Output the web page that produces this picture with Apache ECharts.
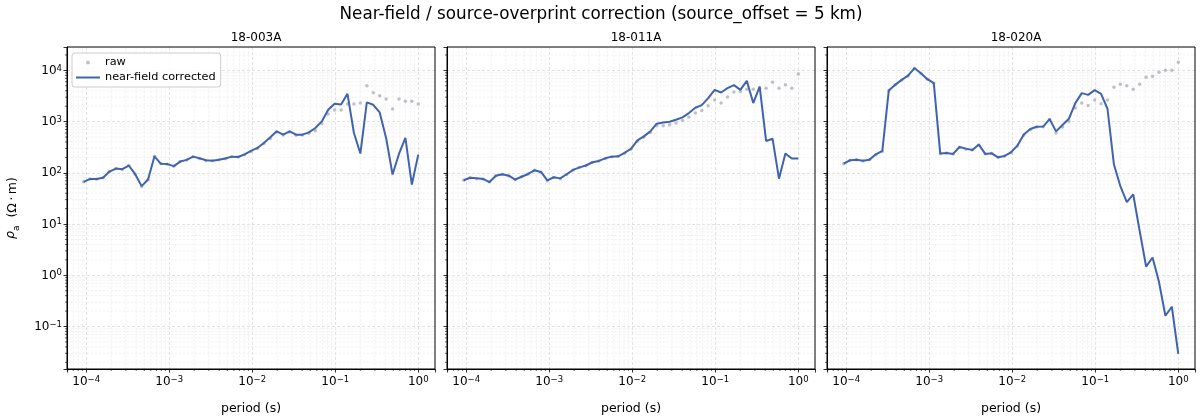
<!DOCTYPE html>
<html><head><meta charset="utf-8">
<script src="https://cdn.jsdelivr.net/npm/echarts@6/dist/echarts.min.js"></script>
<style>html,body{margin:0;padding:0;background:#fff}#c{width:1200px;height:420px}</style>
</head><body><div id="c"></div>
<script>
// ---- data ----
const periods = [9.33e-5, 1.115e-4, 1.334e-4, 1.594e-4, 1.905e-4, 2.278e-4, 2.723e-4, 3.255e-4, 3.890e-4, 4.650e-4,
  5.559e-4, 6.645e-4, 7.943e-4, 9.495e-4, 1.135e-3, 1.357e-3, 1.622e-3, 1.939e-3, 2.317e-3, 2.770e-3,
  3.311e-3, 3.958e-3, 4.732e-3, 5.656e-3, 6.761e-3, 8.082e-3, 9.66e-3, 1.155e-2, 1.380e-2, 1.650e-2,
  1.972e-2, 2.358e-2, 2.818e-2, 3.369e-2, 4.027e-2, 4.814e-2, 5.754e-2, 6.879e-2, 8.222e-2, 9.829e-2,
  0.1175, 0.1404, 0.1679, 0.2007, 0.2399, 0.2868, 0.3428, 0.4097, 0.4898, 0.5855, 0.6998, 0.8365, 1.0];

const siteNames = ['18-003A', '18-011A', '18-020A'];

const raw003 = [66.8, 76, 75, 80, 105, 121, 116, 139, 94, 54, 73, 210, 150, 147, 134, 166, 178, 207, 191, 175,
  172, 180, 189, 206, 203, 226, 260, 298, 372, 470, 630, 548, 630, 540, 545, 590, 665, 922, 1406, 1683,
  1683, 2200, 2200, 2300, 4990, 3650, 3190, 2750, 1760, 2750, 2510, 2510, 2200];
const corr003 = [66.8, 76, 76, 80, 106, 121, 118, 139, 94, 55, 74, 210, 150, 148, 135, 166, 179, 207, 192, 176,
  173, 181, 190, 207, 204, 230, 268, 306, 383, 493, 646, 556, 646, 556, 556, 617, 751, 1010, 1706, 2230,
  2160, 3490, 600, 238, 2370, 2130, 1510, 480, 93, 234, 480, 59, 227];

const raw011 = [71.8, 80, 77, 76, 66, 88, 93, 88, 73, 84, 95, 112, 103, 70, 81, 77, 93, 113, 127, 138,
  160, 170, 190, 205, 208, 240, 288, 415, 495, 610, 832, 832, 871, 940, 1054, 1227, 1469, 1650, 2037, 2630,
  2300, 3013, 3770, 3870, 4305, 4305, 4500, 4508, 5890, 4508, 5224, 4508, 8550];
const corr011 = [71.8, 80, 78, 76, 66, 88, 94, 88, 74, 84, 95, 112, 104, 71, 82, 78, 94, 114, 128, 139,
  161, 171, 192, 207, 210, 245, 295, 430, 515, 646, 910, 964, 995, 1089, 1208, 1469, 1862, 2103, 2877, 4178,
  3700, 4508, 5150, 4178, 6250, 2300, 4840, 419, 464, 77, 238, 190, 190];

const raw020 = [150, 176, 180, 170, 180, 225, 262, 4047, 5224, 6400, 7800, 11040, 8820, 6745, 5635, 236, 243, 232, 315, 290,
  278, 350, 232, 238, 200, 212, 248, 335, 550, 700, 785, 790, 1100, 600, 785, 1010, 1837, 2300, 2065, 2630,
  2230, 2630, 4710, 5380, 4990, 4305, 5380, 7360, 7710, 9230, 10090, 10090, 14450];
const corr020 = [152, 176, 181, 173, 181, 230, 268, 4047, 5224, 6535, 7925, 11040, 8820, 6745, 5635, 238, 245, 234, 320, 297,
  280, 356, 234, 240, 201, 214, 252, 340, 563, 718, 796, 800, 1122, 646, 859, 1138, 2300, 3600, 3333, 4120,
  3490, 1783, 145, 54.8, 26.8, 37.8, 7.31, 1.48, 2.22, 0.745, 0.162, 0.243, 0.0292];

// minor tick positions (2..9 x 10^k) inside the axis ranges
const xMinorTicks = [6e-5, 7e-5, 8e-5, 9e-5,
  2e-4, 3e-4, 4e-4, 5e-4, 6e-4, 7e-4, 8e-4, 9e-4,
  2e-3, 3e-3, 4e-3, 5e-3, 6e-3, 7e-3, 8e-3, 9e-3,
  2e-2, 3e-2, 4e-2, 5e-2, 6e-2, 7e-2, 8e-2, 9e-2,
  0.2, 0.3, 0.4, 0.5, 0.6, 0.7, 0.8, 0.9];
const yMinorTicks = [0.02, 0.03, 0.04, 0.05, 0.06, 0.07, 0.08, 0.09,
  0.2, 0.3, 0.4, 0.5, 0.6, 0.7, 0.8, 0.9,
  2, 3, 4, 5, 6, 7, 8, 9,
  20, 30, 40, 50, 60, 70, 80, 90,
  200, 300, 400, 500, 600, 700, 800, 900,
  2000, 3000, 4000, 5000, 6000, 7000, 8000, 9000, 20000];

const rawSets = [raw003, raw011, raw020];
const corrSets = [corr003, corr011, corr020];

// ---- chart ----
const F = 'DejaVu Sans';
const xMin = Math.pow(10, -4.2315), xMax = Math.pow(10, 0.2015);
const yMin = Math.pow(10, -1.83), yMax = Math.pow(10, 4.457);
const gridLefts = [67, 447, 827];
const gridW = 368, gridTop = 47, gridH = 323;
const LINE = '#4063b0', RAW = '#aeb2bd';

function decadeLabel(v) {
  const e = Math.log10(v);
  const r = Math.round(e);
  if (Math.abs(e - r) > 1e-6) return '';
  return '{b|10}{s|' + (r < 0 ? '\u2212' + (-r) : String(r)) + '}';
}
const labelRich = {
  b: { fontSize: 12, fontFamily: F, color: '#000', lineHeight: 13, verticalAlign: 'bottom' },
  s: { fontSize: 8.5, fontFamily: F, color: '#000', lineHeight: 10, verticalAlign: 'top', padding: [0, 0, 6, 0] }
};

const majorSplit = { show: true, showMinLine: false, showMaxLine: false,
  lineStyle: { color: '#dadada', width: 0.8, type: [3, 2] } };
const tickStyle = { show: true, length: 3.5, lineStyle: { color: '#000', width: 0.8 } };

const grids = [], xAxes = [], yAxes = [], series = [], titles = [];
titles.push({ text: 'Near-field / source-overprint correction (source_offset = 5 km)', left: 596, top: 1,
  textAlign: 'center', textStyle: { fontSize: 16.8, fontWeight: 'normal', color: '#000', fontFamily: F } });

for (let g = 0; g < 3; g++) {
  grids.push({ left: gridLefts[g], top: gridTop, width: gridW, height: gridH, show: true, z: 3,
    borderColor: '#000', borderWidth: 1, backgroundColor: 'transparent' });
  titles.push({ text: siteNames[g], left: gridLefts[g] + gridW / 2, top: 27, textAlign: 'center',
    textStyle: { fontSize: 12, fontWeight: 'normal', color: '#000', fontFamily: F } });
  xAxes.push({ type: 'log', logBase: 10, gridIndex: g, min: xMin, max: xMax,
    axisLine: { show: true, onZero: false, lineStyle: { color: '#000', width: 1 } },
    axisTick: tickStyle, splitLine: majorSplit,
    axisLabel: { show: true, formatter: decadeLabel, rich: labelRich, margin: 6, hideOverlap: false },
    name: 'period (s)', nameLocation: 'middle', nameGap: 33,
    nameTextStyle: { fontSize: 12.5, color: '#000', fontFamily: F } });
  yAxes.push({ type: 'log', logBase: 10, gridIndex: g, min: yMin, max: yMax,
    axisLine: { show: true, onZero: false, lineStyle: { color: '#000', width: 1 } },
    axisTick: tickStyle, splitLine: majorSplit,
    axisLabel: { show: g === 0, formatter: decadeLabel, rich: labelRich, margin: 5, hideOverlap: false },
    name: g === 0 ? '{i|\u03c1}{sub|a}  (\u03a9\u2009\u00b7\u2009m)' : '', nameLocation: 'middle', nameGap: 46,
    nameTextStyle: { fontSize: 12.5, color: '#000', fontFamily: F,
      rich: { i: { fontSize: 12.5, fontStyle: 'italic', fontFamily: F, verticalAlign: 'top', lineHeight: 15 },
              sub: { fontSize: 9, fontFamily: F, verticalAlign: 'bottom', lineHeight: 17 } } } });

  // minor grid + minor ticks
  const md = [];
  xMinorTicks.forEach(v => md.push([v, 1, 0]));
  yMinorTicks.forEach(v => md.push([1e-2, v, 1]));
  series.push({ type: 'custom', xAxisIndex: g, yAxisIndex: g, silent: true, z: 0, clip: false,
    data: md, encode: { x: 0, y: 1 },
    renderItem: function (params, api) {
      const cs = params.coordSys;
      const kind = api.value(2);
      const p = api.coord([api.value(0), api.value(1)]);
      const gs = { stroke: '#ececec', lineWidth: 0.7, lineDash: [2.5, 1.5] };
      const ts = { stroke: '#000', lineWidth: 0.6 };
      if (kind === 0) {
        const x = p[0];
        return { type: 'group', children: [
          { type: 'line', shape: { x1: x, y1: cs.y, x2: x, y2: cs.y + cs.height }, style: gs },
          { type: 'line', shape: { x1: x, y1: cs.y + cs.height, x2: x, y2: cs.y + cs.height + 2 }, style: ts } ] };
      } else {
        const y = p[1];
        return { type: 'group', children: [
          { type: 'line', shape: { x1: cs.x, y1: y, x2: cs.x + cs.width, y2: y }, style: gs },
          { type: 'line', shape: { x1: cs.x - 2, y1: y, x2: cs.x, y2: y }, style: ts } ] };
      }
    } });

  series.push({ type: 'scatter', name: 'raw', xAxisIndex: g, yAxisIndex: g, z: 2, silent: true,
    symbol: 'circle', symbolSize: 3.5, itemStyle: { color: RAW },
    data: periods.map((p, i) => [p, rawSets[g][i]]) });
  series.push({ type: 'line', name: 'near-field corrected', xAxisIndex: g, yAxisIndex: g, z: 3,
    symbol: 'none', showSymbol: false, lineStyle: { color: LINE, width: 2 }, itemStyle: { color: LINE },
    data: periods.map((p, i) => [p, corrSets[g][i]]) });
}

const chart = echarts.init(document.getElementById('c'), null, { renderer: 'canvas' });
chart.setOption({
  animation: false,
  backgroundColor: '#fff',
  title: titles,
  legend: { left: 72, top: 53, orient: 'vertical', z: 10,
    data: [{ name: 'raw', icon: 'circle' },
           { name: 'near-field corrected', icon: 'path://M0,0H24V2H0Z', itemStyle: { color: LINE } }],
    itemWidth: 24, itemHeight: 4, itemGap: 4, padding: [4, 5, 4, 4],
    borderColor: '#cccccc', borderWidth: 1, borderRadius: 3, backgroundColor: 'rgba(255,255,255,0.85)',
    textStyle: { fontSize: 11.3, color: '#000', fontFamily: F } },
  grid: grids, xAxis: xAxes, yAxis: yAxes, series: series
});
</script>
</body></html>
